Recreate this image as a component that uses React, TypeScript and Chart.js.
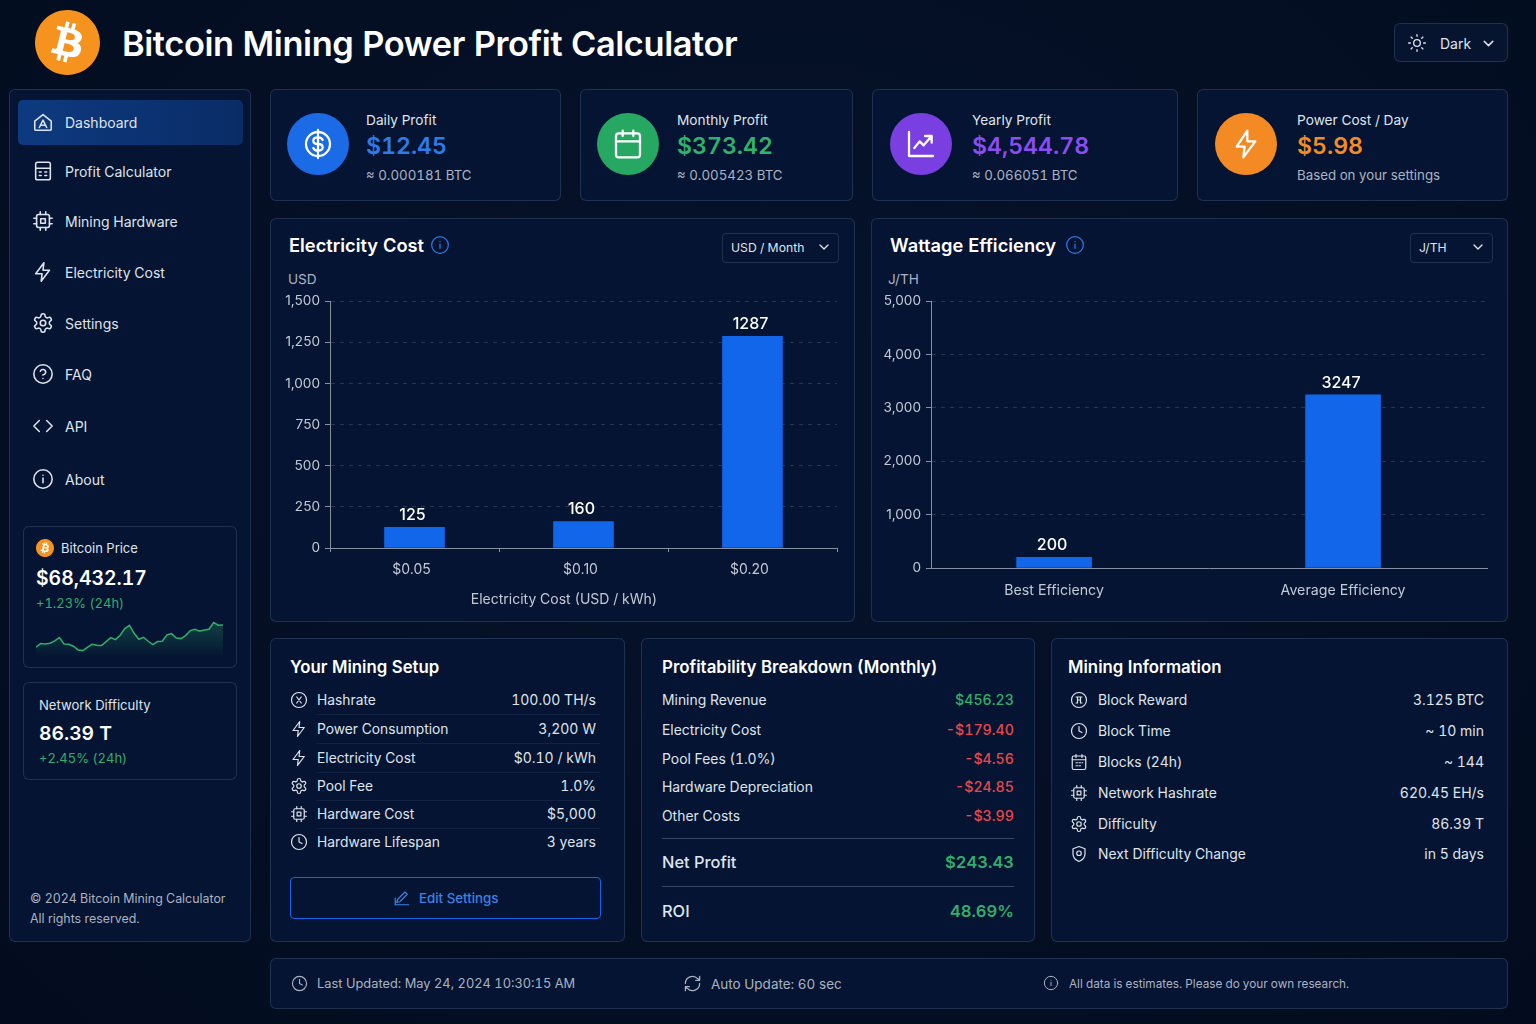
import { useEffect, useRef, type ReactNode } from "react"
import { Chart, registerables, type Plugin } from "chart.js"

Chart.register(...registerables)

// chart data
const costCategories = ["$0.05", "$0.10", "$0.20"]
const costValues = [125, 160, 1287]
const costTicksMax = 1500
const costTickStep = 250

const wattCategories = ["Best Efficiency", "Average Efficiency"]
const wattPositions = [1, 2]
const wattValues = [200, 3247]
const wattTicksMax = 5000
const wattTickStep = 1000

// bitcoin price over the last 24h, estimated off the sparkline
const sparkPrices = [
  67762, 67872, 67862, 67882, 67952, 68052, 67862, 67852, 67792, 67682, 67662, 67762, 67852, 67822,
  67812, 67932, 68052, 67992, 68122, 68322, 68422, 68182, 68002, 68062, 67942, 67842, 67932, 67942,
  68132, 68172, 68042, 68022, 68112, 68262, 68302, 68242, 68282, 68302, 68502, 68422, 68432,
]

const FONT = "Inter, 'Noto Sans', sans-serif"
const BLUE = "#1266ea"
const GREEN = "#33ad6b"
const RED = "#e5484d"
const TICK = "#c3cad6"
const GRAY = "#aab3c2"
const PANEL = "#051432"
const LINE = "rgba(120, 140, 180, 0.24)"

// value written above each bar
const valueLabels: Plugin<"bar"> = {
  id: "valueLabels",
  afterDatasetsDraw(chart) {
    const { ctx } = chart
    const meta = chart.getDatasetMeta(0)
    ctx.save()
    ctx.font = `500 16px ${FONT}`
    ctx.fillStyle = "#ffffff"
    ctx.textAlign = "center"
    ctx.textBaseline = "middle"
    meta.data.forEach((bar, i) => {
      const value = (meta.controller.getParsed(i) as any).y
      ctx.fillText(String(value), bar.x - 2, bar.y - 12)
    })
    ctx.restore()
  },
}

function yAxis(max: number, step: number) {
  return {
    min: 0,
    max,
    afterFit: (axis: any) => {
      axis.width = 60
    },
    border: { color: "#8590a3", width: 1, dash: [4, 5] },
    grid: {
      color: "rgba(170, 185, 210, 0.2)",
      tickColor: "#8590a3",
      tickLength: 5,
      tickBorderDash: [],
    },
    ticks: {
      stepSize: step,
      color: TICK,
      padding: 5,
      font: { family: FONT, size: 13.6 },
      callback: (v: any) => Number(v).toLocaleString("en-US"),
    },
  }
}

function ElectricityChart() {
  const chartRef = useRef<HTMLCanvasElement>(null)

  useEffect(() => {
    if (!chartRef.current) return
    const chart = new Chart(chartRef.current, {
      type: "bar",
      data: {
        labels: costCategories,
        datasets: [{ label: "USD / Month", data: costValues, backgroundColor: BLUE, barThickness: 60 }],
      },
      options: {
        animation: false,
        responsive: false,
        devicePixelRatio: 1,
        layout: { padding: { top: 8, right: 18, left: 0, bottom: 0 } },
        plugins: { legend: { display: false }, tooltip: { enabled: false } },
        scales: {
          y: yAxis(costTicksMax, costTickStep) as any,
          x: {
            afterFit: (axis: any) => {
              axis.height = 64
            },
            border: { color: "#8590a3", width: 1 },
            grid: { drawOnChartArea: false, color: "#8590a3", tickLength: 4 },
            ticks: { color: TICK, padding: 9, labelOffset: -3, font: { family: FONT, size: 14 } },
          } as any,
        },
      },
      plugins: [valueLabels],
    })
    return () => chart.destroy()
  }, [])

  return <canvas ref={chartRef} width={585} height={324} style={{ position: "absolute", left: 270, top: 288 }} />
}

function WattageChart() {
  const chartRef = useRef<HTMLCanvasElement>(null)

  useEffect(() => {
    if (!chartRef.current) return
    const chart = new Chart(chartRef.current, {
      type: "bar",
      data: {
        datasets: [
          {
            label: "J/TH",
            data: wattPositions.map((x, i) => ({ x, y: wattValues[i] })),
            backgroundColor: BLUE,
            barThickness: 75,
          },
        ],
      },
      options: {
        animation: false,
        responsive: false,
        devicePixelRatio: 1,
        layout: { padding: { top: 8, right: 21, left: 0, bottom: 0 } },
        plugins: { legend: { display: false }, tooltip: { enabled: false } },
        scales: {
          y: yAxis(wattTicksMax, wattTickStep) as any,
          x: {
            type: "linear",
            offset: false,
            min: 0.574,
            max: 2.498,
            afterFit: (axis: any) => {
              axis.height = 44
            },
            afterBuildTicks: (axis: any) => {
              axis.ticks = wattPositions.map((value) => ({ value }))
            },
            border: { color: "#8590a3", width: 1 },
            grid: { display: false },
            ticks: {
              color: TICK,
              padding: 6,
              font: { family: FONT, size: 14.2 },
              callback: (v: any) => wattCategories[wattPositions.indexOf(Number(v))],
            },
          } as any,
        },
      },
      plugins: [valueLabels],
    })
    return () => chart.destroy()
  }, [])

  return <canvas ref={chartRef} width={637} height={324} style={{ position: "absolute", left: 871, top: 288 }} />
}

function PriceSparkline() {
  const chartRef = useRef<HTMLCanvasElement>(null)

  useEffect(() => {
    if (!chartRef.current) return
    const chart = new Chart(chartRef.current, {
      type: "line",
      data: {
        labels: sparkPrices.map((_, i) => String(i)),
        datasets: [
          {
            data: sparkPrices,
            borderColor: GREEN,
            borderWidth: 1.5,
            pointRadius: 0,
            tension: 0,
            fill: "start",
            backgroundColor: (c: any) => {
              const g = c.chart.ctx.createLinearGradient(0, 10, 0, 48)
              g.addColorStop(0, "rgba(47, 168, 102, 0.32)")
              g.addColorStop(1, "rgba(47, 168, 102, 0)")
              return g
            },
          },
        ],
      },
      options: {
        animation: false,
        responsive: false,
        devicePixelRatio: 1,
        plugins: { legend: { display: false }, tooltip: { enabled: false } },
        scales: {
          x: { display: false },
          y: { display: false, min: 67380, max: 68880 },
        },
      },
    })
    return () => chart.destroy()
  }, [])

  return <canvas ref={chartRef} width={187} height={50} style={{ position: "absolute", left: 36, top: 610 }} />
}

function T({
  x,
  y,
  size = 14,
  color = "#dfe4ec",
  weight = 400,
  right = false,
  center = false,
  spacing = 0,
  children,
}: {
  x: number
  y: number
  size?: number
  color?: string
  weight?: number
  right?: boolean
  center?: boolean
  spacing?: number
  children: ReactNode
}) {
  const tx = right ? "-100%" : center ? "-50%" : "0"
  return (
    <div
      style={{
        position: "absolute",
        left: x,
        top: y,
        transform: `translate(${tx}, -50%)`,
        fontSize: size,
        color,
        fontWeight: weight,
        letterSpacing: spacing,
        fontVariantNumeric: "tabular-nums",
        whiteSpace: "nowrap",
        lineHeight: 1.2,
      }}
    >
      {children}
    </div>
  )
}

function Panel({ x, y, x2, y2, children }: { x: number; y: number; x2: number; y2: number; children?: ReactNode }) {
  return (
    <div
      style={{
        position: "absolute",
        left: x,
        top: y,
        width: x2 - x,
        height: y2 - y,
        boxSizing: "border-box",
        background: PANEL,
        border: `1px solid ${LINE}`,
        borderRadius: 6,
      }}
    >
      {children}
    </div>
  )
}

const GEAR =
  "M12.22 2h-.44a2 2 0 0 0-2 2v.18a2 2 0 0 1-1 1.73l-.43.25a2 2 0 0 1-2 0l-.15-.08a2 2 0 0 0-2.73.73l-.22.38a2 2 0 0 0 .73 2.73l.15.1a2 2 0 0 1 1 1.72v.51a2 2 0 0 1-1 1.74l-.15.09a2 2 0 0 0-.73 2.73l.22.38a2 2 0 0 0 2.73.73l.15-.08a2 2 0 0 1 2 0l.43.25a2 2 0 0 1 1 1.73V20a2 2 0 0 0 2 2h.44a2 2 0 0 0 2-2v-.18a2 2 0 0 1 1-1.73l.43-.25a2 2 0 0 1 2 0l.15.08a2 2 0 0 0 2.73-.73l.22-.39a2 2 0 0 0-.73-2.73l-.15-.08a2 2 0 0 1-1-1.74v-.5a2 2 0 0 1 1-1.74l.15-.09a2 2 0 0 0 .73-2.73l-.22-.38a2 2 0 0 0-2.73-.73l-.15.08a2 2 0 0 1-2 0l-.43-.25a2 2 0 0 1-1-1.73V4a2 2 0 0 0-2-2z"

const icons: Record<string, ReactNode> = {
  sun: (
    <>
      <circle cx="12" cy="12" r="4" />
      <path d="M12 2v2M12 20v2M4.9 4.9l1.4 1.4M17.7 17.7l1.4 1.4M2 12h2M20 12h2M4.9 19.1l1.4-1.4M17.7 6.3l1.4-1.4" />
    </>
  ),
  chevron: <path d="M6 9l6 6 6-6" />,
  home: (
    <>
      <path d="M3 11l9-7 9 7v9a1 1 0 0 1-1 1H4a1 1 0 0 1-1-1z" />
      <path d="M8 18l4-8 4 8M9.5 15.5h5" />
    </>
  ),
  calc: (
    <>
      <rect x="4" y="2.5" width="16" height="19" rx="2" />
      <path d="M4 9h16M8 13h2M14 13h2M8 17h2M14 17h2" />
    </>
  ),
  cpu: (
    <>
      <rect x="5" y="5" width="14" height="14" rx="2" />
      <rect x="9.5" y="9.5" width="5" height="5" />
      <path d="M9 2v3M15 2v3M9 19v3M15 19v3M2 9h3M2 15h3M19 9h3M19 15h3" />
    </>
  ),
  zap: <path d="M13 2L4 14h7l-1 8 9-12h-7z" />,
  gear: (
    <>
      <path d={GEAR} />
      <circle cx="12" cy="12" r="3" />
    </>
  ),
  help: (
    <>
      <circle cx="12" cy="12" r="10" />
      <path d="M9.1 9a3 3 0 0 1 5.8 1c0 2-3 3-3 3M12 17h.01" />
    </>
  ),
  code: <path d="M16 18l6-6-6-6M8 6l-6 6 6 6" />,
  info: (
    <>
      <circle cx="12" cy="12" r="10" />
      <path d="M12 16v-5M12 8h.01" />
    </>
  ),
  dollar: (
    <>
      <circle cx="12" cy="12" r="9" />
      <path d="M12 1.5v3M12 19.5v3M15.5 9c-.5-1.3-1.8-2-3.5-2-2 0-3.5 1-3.5 2.5S10 12 12 12s3.5 1 3.5 2.5S14 17 12 17c-1.7 0-3-.7-3.5-2M12 5.5v13" />
    </>
  ),
  calendar: (
    <>
      <rect x="3" y="4" width="18" height="18" rx="2" />
      <path d="M8 2v4M16 2v4M3 10h18" />
    </>
  ),
  calendarDots: (
    <>
      <rect x="3" y="4" width="18" height="18" rx="2" />
      <path d="M8 2v4M16 2v4M3 9h18M8 13h2M12 13h2M16 13h1M8 17h2M12 17h2" />
    </>
  ),
  trend: <path d="M3 3v18h18M7 15l4-5 3 3 6-7M15 6h5v5" />,
  bolt: <path d="M13 2L5 14h6l-1 8 9-12h-6z" />,
  clock: (
    <>
      <circle cx="12" cy="12" r="10" />
      <path d="M12 6v6l4 2" />
    </>
  ),
  edit: (
    <>
      <path d="M3 21h18" />
      <path d="M5 18l1-4L16 4l3 3L9 17z" />
      <path d="M3 12v9" />
    </>
  ),
  refresh: (
    <>
      <path d="M3 12a9 9 0 0 1 15.5-6.2L21 8M21 3v5h-5" />
      <path d="M21 12a9 9 0 0 1-15.5 6.2L3 16M3 21v-5h5" />
    </>
  ),
  xcircle: (
    <>
      <circle cx="12" cy="12" r="10" />
      <path d="M9 8l6 8M15 8l-6 8" />
    </>
  ),
  reward: (
    <>
      <circle cx="12" cy="12" r="10" />
      <path d="M8 8h8M10 8v8M14 8v8M8 16h2M14 16h2M10 12h4" />
    </>
  ),
  shield: (
    <>
      <path d="M12 2l8 3v7c0 5-3.5 8-8 10-4.5-2-8-5-8-10V5z" />
      <circle cx="12" cy="11" r="3" />
    </>
  ),
}

function Icon({ name, x, y, size = 20, color = "#dfe4ec", width = 2 }: { name: string; x: number; y: number; size?: number; color?: string; width?: number }) {
  return (
    <svg
      viewBox="0 0 24 24"
      width={size}
      height={size}
      fill="none"
      stroke={color}
      strokeWidth={width}
      strokeLinecap="round"
      strokeLinejoin="round"
      style={{ position: "absolute", left: x - size / 2, top: y - size / 2 }}
    >
      {icons[name]}
    </svg>
  )
}

const BTC_PATH =
  "M23.638 14.904c-1.602 6.43-8.113 10.34-14.542 8.736C2.67 22.05-1.244 15.525.362 9.105 1.962 2.67 8.475-1.243 14.9.358c6.43 1.605 10.342 8.115 8.738 14.548v-.002zm-6.35-4.613c.24-1.59-.974-2.45-2.64-3.03l.54-2.153-1.315-.33-.525 2.107c-.345-.087-.705-.167-1.064-.25l.526-2.127-1.32-.33-.54 2.165c-.285-.067-.565-.132-.84-.2l-1.815-.45-.35 1.407s.975.225.955.236c.535.136.63.486.615.766l-1.477 5.92c-.075.166-.24.406-.614.314.015.02-.96-.24-.96-.24l-.66 1.51 1.71.426.93.242-.54 2.19 1.32.327.54-2.17c.36.1.705.19 1.05.273l-.51 2.154 1.32.33.545-2.19c2.24.427 3.93.257 4.64-1.774.57-1.637-.03-2.58-1.217-3.196.854-.193 1.5-.76 1.68-1.93h.01zm-3.01 4.22c-.404 1.64-3.157.75-4.05.53l.72-2.9c.896.23 3.757.67 3.33 2.37zm.41-4.24c-.37 1.49-2.662.735-3.405.55l.654-2.64c.744.18 3.137.524 2.75 2.084v.006z"

function BtcLogo({ x, y, size }: { x: number; y: number; size: number }) {
  return (
    <svg viewBox="0 0 24 24" width={size} height={size} style={{ position: "absolute", left: x - size / 2, top: y - size / 2 }}>
      <circle cx="12" cy="12" r="11" fill="#ffffff" />
      <path d={BTC_PATH} fill="#f6921e" />
    </svg>
  )
}

const navItems: [string, string, number][] = [
  ["Dashboard", "home", 123],
  ["Profit Calculator", "calc", 172],
  ["Mining Hardware", "cpu", 222],
  ["Electricity Cost", "zap", 273],
  ["Settings", "gear", 324],
  ["FAQ", "help", 375],
  ["API", "code", 427],
  ["About", "info", 480],
]

const statCards = [
  { x: 270, x2: 561, cx: 318, tx: 366, icon: "dollar", bg: "#1c6be6", color: "#2b7bea", title: "Daily Profit", value: "$12.45", sub: "≈ 0.000181 BTC" },
  { x: 580, x2: 853, cx: 628, tx: 677, icon: "calendar", bg: "#27a862", color: "#2fb26c", title: "Monthly Profit", value: "$373.42", sub: "≈ 0.005423 BTC" },
  { x: 872, x2: 1178, cx: 921, tx: 972, icon: "trend", bg: "#7a3fe0", color: "#8b4df0", title: "Yearly Profit", value: "$4,544.78", sub: "≈ 0.066051 BTC" },
  { x: 1197, x2: 1508, cx: 1246, tx: 1297, icon: "bolt", bg: "#f48a24", color: "#f58b25", title: "Power Cost / Day", value: "$5.98", sub: "Based on your settings" },
]

const setupRows: [string, string, string, number][] = [
  ["xcircle", "Hashrate", "100.00 TH/s", 700],
  ["zap", "Power Consumption", "3,200 W", 729],
  ["zap", "Electricity Cost", "$0.10 / kWh", 758],
  ["gear", "Pool Fee", "1.0%", 786],
  ["cpu", "Hardware Cost", "$5,000", 814],
  ["clock", "Hardware Lifespan", "3 years", 842],
]

const breakdownRows: [string, string, string, number][] = [
  ["Mining Revenue", "$456.23", GREEN, 700],
  ["Electricity Cost", "-$179.40", RED, 730],
  ["Pool Fees (1.0%)", "-$4.56", RED, 759],
  ["Hardware Depreciation", "-$24.85", RED, 787],
  ["Other Costs", "-$3.99", RED, 816],
]

const infoRows: [string, string, string, number][] = [
  ["reward", "Block Reward", "3.125 BTC", 700],
  ["clock", "Block Time", "~ 10 min", 731],
  ["calendarDots", "Blocks (24h)", "~ 144", 762],
  ["cpu", "Network Hashrate", "620.45 EH/s", 793],
  ["gear", "Difficulty", "86.39 T", 824],
  ["shield", "Next Difficulty Change", "in 5 days", 854],
]

export default function App() {
  return (
    <div
      style={{
        position: "absolute",
        left: 0,
        top: 0,
        width: 1536,
        height: 1024,
        overflow: "hidden",
        fontFamily: FONT,
        background: "radial-gradient(ellipse at 50% 40%, #06132c 0%, #030c1e 100%)",
      }}
    >
      <BtcLogo x={67} y={42} size={65} />
      <T x={122} y={44} size={34.4} weight={600} color="#ffffff" spacing={-0.4}>
        Bitcoin Mining Power Profit Calculator
      </T>

      <div style={{ position: "absolute", left: 1394, top: 23, width: 114, height: 39, boxSizing: "border-box", border: `1px solid ${LINE}`, borderRadius: 6, background: "#061430" }} />
      <Icon name="sun" x={1417} y={43} size={20} width={1.6} />
      <T x={1440} y={44} size={14}>Dark</T>
      <Icon name="chevron" x={1488} y={43} size={17} />

      {/* sidebar */}
      <Panel x={9} y={89} x2={251} y2={942} />
      <div style={{ position: "absolute", left: 18, top: 100, width: 225, height: 45, borderRadius: 5, background: "linear-gradient(90deg, #0d3a80, #0a2c66)" }} />
      {navItems.map(([label, icon, y]) => (
        <div key={label}>
          <Icon name={icon} x={43} y={y - 1} size={22} width={1.7} />
          <T x={65} y={y} size={14}>{label}</T>
        </div>
      ))}

      <Panel x={23} y={526} x2={237} y2={668} />
      <BtcLogo x={45} y={548} size={18} />
      <T x={61} y={549} size={13}>Bitcoin Price</T>
      <T x={36} y={579} size={19.4} weight={600} color="#ffffff">$68,432.17</T>
      <T x={36} y={604} size={13} color={GREEN}>+1.23% (24h)</T>
      <PriceSparkline />

      <Panel x={23} y={682} x2={237} y2={780} />
      <T x={39} y={706} size={13.1}>Network Difficulty</T>
      <T x={39} y={734} size={19.3} weight={600} color="#ffffff">86.39 T</T>
      <T x={39} y={759} size={13} color={GREEN}>+2.45% (24h)</T>

      <T x={30} y={899} size={12.4} color={GRAY}>© 2024 Bitcoin Mining Calculator</T>
      <T x={30} y={919} size={12.4} color={GRAY}>All rights reserved.</T>

      {/* stat cards */}
      {statCards.map((c) => (
        <div key={c.title}>
          <Panel x={c.x} y={89} x2={c.x2} y2={201} />
          <div style={{ position: "absolute", left: c.cx - 31, top: 113, width: 62, height: 62, borderRadius: "50%", background: c.bg }} />
          <Icon name={c.icon} x={c.cx} y={144} size={32} color="#ffffff" width={1.7} />
          <T x={c.tx} y={120} size={13.7}>{c.title}</T>
          <T x={c.tx} y={147} size={23.1} weight={600} color={c.color}>{c.value}</T>
          <T x={c.tx} y={176} size={13.3} color={GRAY}>{c.sub}</T>
        </div>
      ))}

      {/* electricity chart */}
      <Panel x={270} y={218} x2={855} y2={622} />
      <T x={289} y={246} size={18.3} weight={600} color="#ffffff">Electricity Cost</T>
      <Icon name="info" x={440} y={245} size={20} color="#2b7bea" width={1.5} />
      <div style={{ position: "absolute", left: 722, top: 233, width: 117, height: 30, boxSizing: "border-box", border: `1px solid ${LINE}`, borderRadius: 4 }} />
      <T x={731} y={248} size={12.2}>USD / Month</T>
      <Icon name="chevron" x={824} y={247} size={16} />
      <T x={288} y={279} size={13.6} color={GRAY}>USD</T>
      <ElectricityChart />
      <T x={564} y={599} size={14} center color={TICK}>Electricity Cost (USD / kWh)</T>

      {/* wattage chart */}
      <Panel x={871} y={218} x2={1508} y2={622} />
      <T x={890} y={246} size={18.3} weight={600} color="#ffffff">Wattage Efficiency</T>
      <Icon name="info" x={1075} y={245} size={20} color="#2b7bea" width={1.5} />
      <div style={{ position: "absolute", left: 1410, top: 233, width: 83, height: 30, boxSizing: "border-box", border: `1px solid ${LINE}`, borderRadius: 4 }} />
      <T x={1419} y={248} size={12.2}>J/TH</T>
      <Icon name="chevron" x={1478} y={247} size={16} />
      <T x={888} y={279} size={13.6} color={GRAY}>J/TH</T>
      <WattageChart />

      {/* mining setup */}
      <Panel x={270} y={638} x2={625} y2={942} />
      <T x={290} y={667} size={16.8} weight={600} color="#ffffff">Your Mining Setup</T>
      {setupRows.map(([icon, label, value, y], i) => (
        <div key={label}>
          <Icon name={icon} x={299} y={y} size={18} width={1.6} />
          <T x={317} y={y} size={13.8}>{label}</T>
          <T x={596} y={y} size={14} right>{value}</T>
          {i < setupRows.length - 1 && (
            <div style={{ position: "absolute", left: 316, top: y + 14, width: 284, height: 1, background: "rgba(120, 140, 180, 0.12)" }} />
          )}
        </div>
      ))}
      <div style={{ position: "absolute", left: 290, top: 877, width: 311, height: 42, boxSizing: "border-box", border: `1px solid ${BLUE}`, borderRadius: 4 }} />
      <Icon name="edit" x={402} y={898} size={18} color="#3b82e6" width={1.6} />
      <T x={419} y={899} size={13.3} weight={500} color="#3b82e6">Edit Settings</T>

      {/* breakdown */}
      <Panel x={641} y={638} x2={1035} y2={942} />
      <T x={662} y={667} size={16.9} weight={600} color="#ffffff">Profitability Breakdown (Monthly)</T>
      {breakdownRows.map(([label, value, color, y]) => (
        <div key={label}>
          <T x={662} y={y} size={13.9}>{label}</T>
          <T x={1014} y={y} size={14.2} right weight={500} color={color}>{value}</T>
        </div>
      ))}
      <div style={{ position: "absolute", left: 662, top: 838, width: 352, height: 1, background: "rgba(150, 165, 195, 0.35)" }} />
      <T x={662} y={863} size={16.4} weight={500}>Net Profit</T>
      <T x={1014} y={863} size={16.6} right weight={600} color={GREEN}>$243.43</T>
      <div style={{ position: "absolute", left: 662, top: 886, width: 352, height: 1, background: "rgba(150, 165, 195, 0.35)" }} />
      <T x={662} y={912} size={16.4} weight={500}>ROI</T>
      <T x={1014} y={912} size={16.6} right weight={600} color={GREEN}>48.69%</T>

      {/* mining info */}
      <Panel x={1051} y={638} x2={1508} y2={942} />
      <T x={1068} y={667} size={16.8} weight={600} color="#ffffff">Mining Information</T>
      {infoRows.map(([icon, label, value, y]) => (
        <div key={label}>
          <Icon name={icon} x={1079} y={y} size={18} width={1.6} />
          <T x={1098} y={y} size={13.9}>{label}</T>
          <T x={1484} y={y} size={14} right>{value}</T>
        </div>
      ))}

      {/* footer bar */}
      <Panel x={270} y={958} x2={1508} y2={1009} />
      <Icon name="clock" x={299} y={983} size={17} color={GRAY} width={1.6} />
      <T x={317} y={984} size={12.85} color={GRAY}>Last Updated: May 24, 2024 10:30:15 AM</T>
      <Icon name="refresh" x={692} y={983} size={19} color={GRAY} width={1.6} />
      <T x={711} y={984} size={13.5} color={GRAY}>Auto Update: 60 sec</T>
      <Icon name="info" x={1051} y={983} size={16} color={GRAY} width={1.5} />
      <T x={1069} y={984} size={11.75} color={GRAY}>All data is estimates. Please do your own research.</T>
    </div>
  )
}
